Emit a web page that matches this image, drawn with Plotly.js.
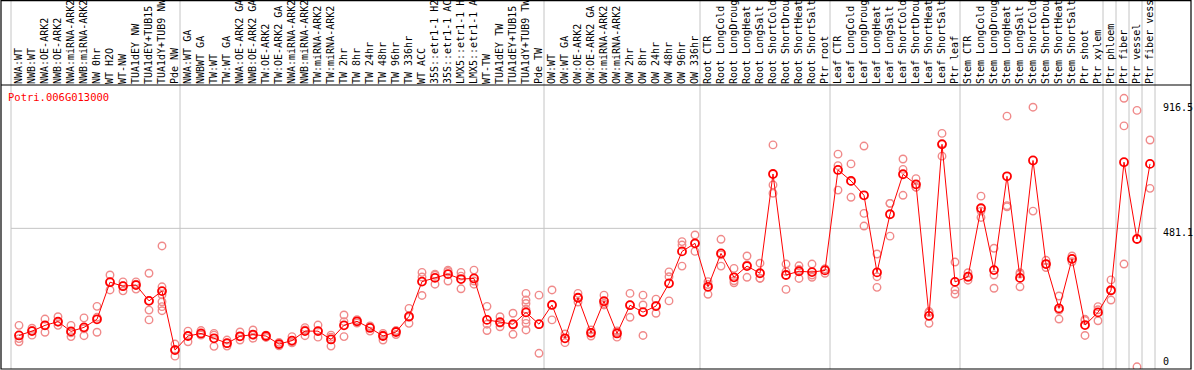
<!DOCTYPE html>
<html>
<head>
<meta charset="utf-8">
<script src="https://cdn.plot.ly/plotly-3.0.1.min.js"></script>
<style>html,body{margin:0;padding:0;background:#fff;}#chart{width:1194px;height:370px;}</style>
</head>
<body>
<div id="chart"></div>
<script>
const geneId = "Potri.006G013000";
const categories = [
"NWA:WT","NWB:WT","NWA:OE-ARK2","NWB:OE-ARK2","NWA:miRNA-ARK2","NWB:miRNA-ARK2","NW 0hr","WT H2O","WT-NW","TUA1dEY NW",
"TUA1dEY+TUB15","TUA1dY+TUB9 NW","Pde NW","NWA:WT GA","NWBWT GA","TW:WT","TW:WT GA","NWA:OE-ARK2 GA","NWB:OE-ARK2 GA","TW:OE-ARK2",
"TW:OE-ARK2 GA","NWA:miRNA-ARK2","NWB:miRNA-ARK2","TW:miRNA-ARK2","TW:miRNA-ARK2","TW 2hr","TW 8hr","TW 24hr","TW 48hr","TW 96hr",
"TW 336hr","WT ACC","35S::etr1-1 H2","35S::etr1-1 AC","LMX5::etr1-1 H","LMX5::etr1-1 A","WT-TW","TUA1dEY TW","TUA1dEY+TUB15","TUA1dY+TUB9 TW",
"Pde TW","OW:WT","OW:WT GA","OW:OE-ARK2","OW:OE-ARK2 GA","OW:miRNA-ARK2","OW:miRNA-ARK2","OW 2hr","OW 8hr","OW 24hr",
"OW 48hr","OW 96hr","OW 336hr","Root CTR","Root LongCold","Root LongDroug","Root LongHeat","Root LongSalt","Root ShortCold","Root ShortDrou",
"Root ShortHeat","Root ShortSalt","Ptr root","Leaf CTR","Leaf LongCold","Leaf LongDroug","Leaf LongHeat","Leaf LongSalt","Leaf ShortCold","Leaf ShortDrou",
"Leaf ShortHeat","Leaf ShortSalt","Ptr leaf","Stem CTR","Stem LongCold","Stem LongDroug","Stem LongHeat","Stem LongSalt","Stem ShortCold","Stem ShortDrou",
"Stem ShortHeat","Stem ShortSalt","Ptr shoot","Ptr xylem","Ptr phloem","Ptr fiber","Ptr vessel","Ptr fiber vess"
];
const meanValues = [
109,124,144,157,123,137,165,294,280,284,
229,263,58,107,116,99,82,106,112,107,
79,91,124,124,95,144,158,135,107,121,
175,296,309,322,305,307,163,155,148,189,
148,215,99,240,118,228,116,214,190,211,
290,401,429,278,394,311,350,325,670,319,
332,329,335,684,646,596,328,530,669,634,
177,773,295,313,551,336,662,309,717,357,
203,375,145,189,266,711,444,705
];
const replicateValues = [
[144,98,87],[134,110,126],[166,120,144],[174,144,155],[144,105,118],[170,108,132],[210,120,172],[319,267,295],[295,264,282],[295,270,287],
[325,197,163,230],[420,278,226,209,195,250],[37,79,60],[124,87,108],[126,110,113],[116,71,110],[93,72,82],[121,93,105],[128,99,110],[110,102,108],
[85,73,79],[105,83,86],[136,108,128],[145,103,124],[110,72,103],[180,105,157],[164,152,158],[142,124,139],[116,93,111],[126,112,124],
[203,151,172],[328,248,312],[322,287,318],[336,298,331],[328,271,315],[336,287,298],[210,126,148],[174,139,152],[186,113,145],[255,232,220,200,163,151,128],
[249,47],[267,163,215],[84,114],[255,225,240],[128,107,119],[249,215,220],[125,103,120],[255,172,215],[249,215,109],[235,186,212],
[330,313,229],[435,423,350],[458,401,428],[296,252,286],[443,350,389],[342,292,299],[385,311,354],[360,307,308],[771,632,603],[357,269,331],
[351,307,338],[357,311,319],[340,325,340],[739,699,614],[705,589,644],[767,533,489],[392,313,276],[568,454,568],[722,686,596],[654,624,624],
[192,151,188],[811,732,776],[364,267,253],[327,311,301],[593,519,541],[412,319,273],[871,560,556],[327,278,322],[902,541],[370,345,357],
[246,166,197],[385,365,375],[165,109,161],[209,160,198],[302,232,264],[933,837,357],[891,0],[788,620]
];
const yTickValues = [0, 481.1, 916.5];
const yTickLabels = ["0", "481.1", "916.5"];
const gridValues = [481.1];
const groupBreaks = [0, 13, 41, 53, 63, 73, 84, 85, 86, 87, 88];

const xIdx = categories.map((_, i) => i + 1);
const repX = [], repY = [];
replicateValues.forEach((arr, i) => arr.forEach(v => { repX.push(i + 1); repY.push(v); }));

const mono = "DejaVu Sans Mono, monospace";

const traces = [
  {x: repX, y: repY, type: 'scatter', mode: 'markers', hoverinfo: 'skip',
   marker: {symbol: 'circle-open', size: 7.5, color: '#f08a8a', line: {width: 1.4, color: '#f08a8a'}}},
  {x: xIdx, y: meanValues, type: 'scatter', mode: 'lines+markers',
   line: {color: '#ff0000', width: 1},
   marker: {symbol: 'circle-open', size: 8, color: '#ff0000', line: {width: 1.8, color: '#ff0000'}}}
];

const shapes = [];
groupBreaks.forEach(b => shapes.push({type: 'line', xref: 'x', yref: 'paper', x0: b + 0.385, x1: b + 0.385, y0: 0, y1: 1.31,
  line: {color: '#c4c4c4', width: 1}, layer: 'below'}));
gridValues.forEach(v => shapes.push({type: 'line', xref: 'x', yref: 'y', x0: groupBreaks[0] + 0.385, x1: groupBreaks[groupBreaks.length-1] + 0.5, y0: v, y1: v,
  line: {color: '#c4c4c4', width: 1}, layer: 'below'}));
shapes.push({type: 'rect', xref: 'paper', yref: 'paper', x0: 0, x1: 1, y0: 0, y1: 1.297, line: {color: '#000', width: 1.2}});
shapes.push({type: 'line', xref: 'paper', yref: 'paper', x0: 0, x1: 1, y0: 1, y1: 1, line: {color: '#000', width: 1.2}});

const annotations = [
  {text: geneId, xref: 'paper', yref: 'paper', x: 0.0042, y: 0.958, xanchor: 'left', yanchor: 'middle', showarrow: false,
   font: {family: mono, size: 10.5, color: '#ff0000'}}
];
yTickValues.forEach((v, i) => annotations.push({text: yTickLabels[i], xref: 'paper', yref: 'y', x: 0.9745, y: v,
  xanchor: 'left', yanchor: v === 0 ? 'bottom' : 'top', yshift: v === 0 ? -2 : 3, showarrow: false,
  font: {family: mono, size: 10, color: '#000'}}));

const layout = {
  width: 1194, height: 370,
  margin: {l: 1, r: 3, t: 85, b: 1, pad: 0},
  paper_bgcolor: '#fff', plot_bgcolor: '#fff',
  showlegend: false,
  xaxis: {range: [-0.3846, 91.154], side: 'top', tickmode: 'array', tickvals: xIdx, ticktext: categories,
    tickangle: -90, ticks: '', showgrid: false, zeroline: false, showline: false, automargin: false,
    tickfont: {family: mono, size: 10, color: '#000'}},
  yaxis: {range: [-7.64, 979.2], showgrid: false, zeroline: false, showticklabels: false, ticks: '', showline: false, automargin: false},
  shapes: shapes,
  annotations: annotations
};
Plotly.newPlot('chart', traces, layout, {displayModeBar: false, staticPlot: true});
</script>
</body>
</html>
